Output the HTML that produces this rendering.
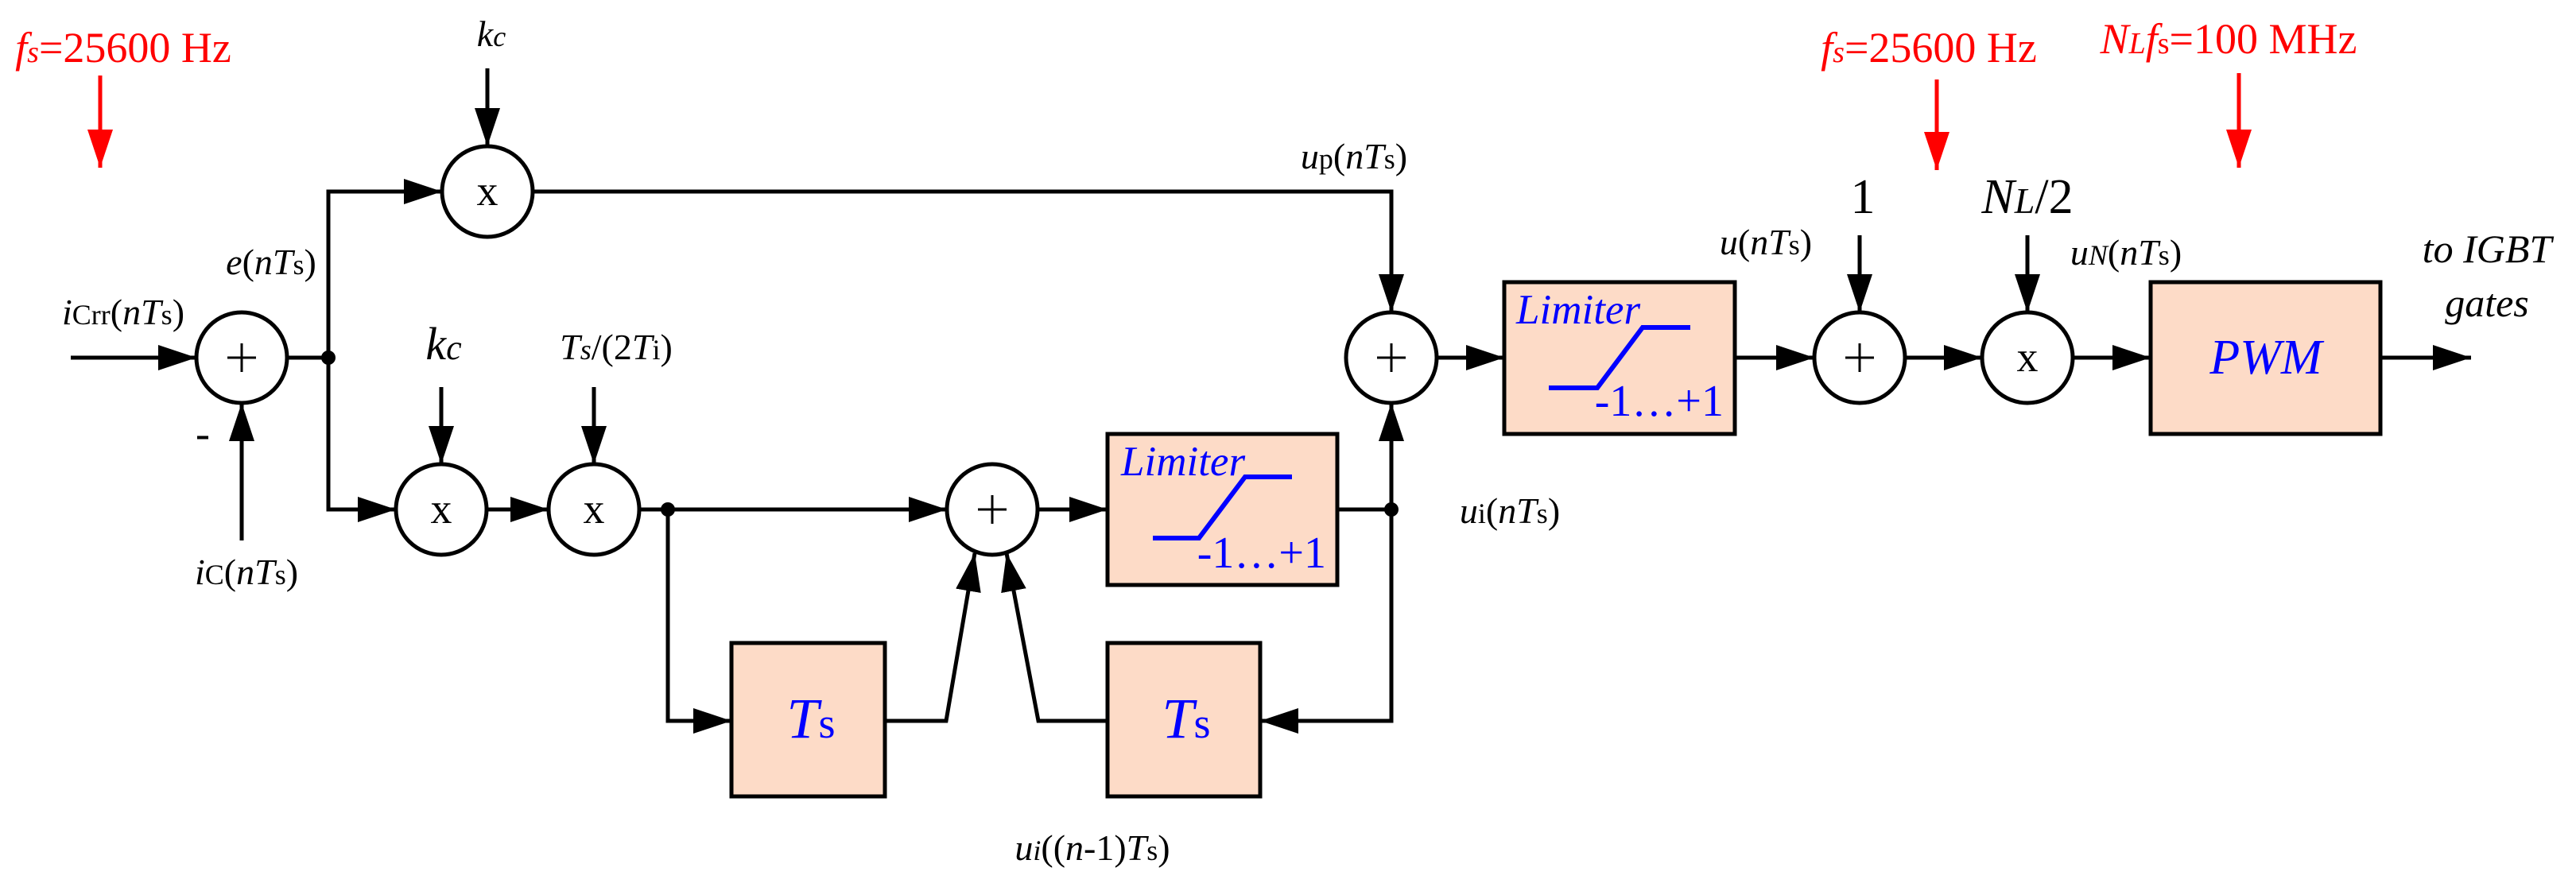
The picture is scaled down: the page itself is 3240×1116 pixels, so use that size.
<!DOCTYPE html>
<html><head><meta charset="utf-8"><style>
html,body{margin:0;padding:0;background:#fff;}
svg{display:block;font-family:"Liberation Serif",serif;}
</style></head><body>
<svg width="3240" height="1116" viewBox="0 0 3240 1116" xmlns="http://www.w3.org/2000/svg" font-family="Liberation Serif, serif">
<defs>
<marker id="a" viewBox="0 0 48 32" refX="48" refY="16" markerWidth="48" markerHeight="32" markerUnits="userSpaceOnUse" orient="auto"><path d="M0,0 L48,16 L0,32 Z" fill="#000"/></marker>
<marker id="r" viewBox="0 0 48 32" refX="48" refY="16" markerWidth="48" markerHeight="32" markerUnits="userSpaceOnUse" orient="auto"><path d="M0,0 L48,16 L0,32 Z" fill="#f00"/></marker>
</defs>
<g stroke="#000" stroke-width="5" fill="none">
<line x1="89" y1="450" x2="247" y2="450" marker-end="url(#a)"/>
<line x1="304" y1="680" x2="304" y2="507" marker-end="url(#a)"/>
<line x1="361" y1="450" x2="413" y2="450"/>
<polyline points="413,450 413,241 556,241" marker-end="url(#a)"/>
<line x1="613" y1="86" x2="613" y2="184" marker-end="url(#a)"/>
<polyline points="670,241 1750,241 1750,393" marker-end="url(#a)"/>
<polyline points="413,450 413,641 498,641" marker-end="url(#a)"/>
<line x1="555" y1="487" x2="555" y2="584" marker-end="url(#a)"/>
<line x1="747" y1="487" x2="747" y2="584" marker-end="url(#a)"/>
<line x1="612" y1="641" x2="690" y2="641" marker-end="url(#a)"/>
<line x1="804" y1="641" x2="1191" y2="641" marker-end="url(#a)"/>
<line x1="1305" y1="641" x2="1393" y2="641" marker-end="url(#a)"/>
<polyline points="840,641 840,907 920,907" marker-end="url(#a)"/>
<polyline points="1113,907 1190,907 1226,696" marker-end="url(#a)"/>
<polyline points="1393,907 1306,907 1266,696" marker-end="url(#a)"/>
<line x1="1682" y1="641" x2="1750" y2="641"/>
<polyline points="1750,641 1750,907 1585,907" marker-end="url(#a)"/>
<line x1="1750" y1="641" x2="1750" y2="507" marker-end="url(#a)"/>
<line x1="1807" y1="450" x2="1892" y2="450" marker-end="url(#a)"/>
<line x1="2182" y1="450" x2="2282" y2="450" marker-end="url(#a)"/>
<line x1="2339" y1="296" x2="2339" y2="393" marker-end="url(#a)"/>
<line x1="2396" y1="450" x2="2493" y2="450" marker-end="url(#a)"/>
<line x1="2550" y1="296" x2="2550" y2="393" marker-end="url(#a)"/>
<line x1="2607" y1="450" x2="2705" y2="450" marker-end="url(#a)"/>
<line x1="2994" y1="450" x2="3108" y2="450" marker-end="url(#a)"/>
</g>
<g stroke="#f00" stroke-width="5">
<line x1="126" y1="95" x2="126" y2="211" marker-end="url(#r)"/>
<line x1="2436" y1="100" x2="2436" y2="214" marker-end="url(#r)"/>
<line x1="2816" y1="92" x2="2816" y2="211" marker-end="url(#r)"/>
</g>
<g stroke="#000" stroke-width="5" fill="#fff">
<circle cx="304" cy="450" r="57"/>
<circle cx="613" cy="241" r="57"/>
<circle cx="555" cy="641" r="57"/>
<circle cx="747" cy="641" r="57"/>
<circle cx="1248" cy="641" r="57"/>
<circle cx="1750" cy="450" r="57"/>
<circle cx="2339" cy="450" r="57"/>
<circle cx="2550" cy="450" r="57"/>
</g>
<g fill="#000"><circle cx="413" cy="450" r="9"/><circle cx="840" cy="641" r="9"/><circle cx="1750" cy="641" r="9"/></g>
<g stroke="#000" stroke-width="3">
<path d="M286,450h36M304,432v36"/>
<path d="M1230,641h36M1248,623v36"/>
<path d="M1732,450h36M1750,432v36"/>
<path d="M2321,450h36M2339,432v36"/>
</g>
<g font-size="54" text-anchor="middle">
<text x="613" y="258">x</text><text x="555" y="658">x</text><text x="747" y="658">x</text><text x="2550" y="467">x</text>
</g>
<g stroke="#000" stroke-width="5" fill="#fddbc7">
<rect x="1393" y="546" width="289" height="190"/>
<rect x="920" y="809" width="193" height="193"/>
<rect x="1393" y="809" width="192" height="193"/>
<rect x="1892" y="355" width="290" height="191"/>
<rect x="2705" y="355" width="289" height="191"/>
</g>
<g stroke="#00f" stroke-width="6" fill="none">
<polyline points="1450,677 1508,677 1566,600 1625,600"/>
<polyline points="1948,488 2009,488 2066,412 2126,412"/>
</g>
<g fill="#00f">
<text x="1410" y="598" font-size="53" font-style="italic">Limiter</text>
<text x="1668" y="714" font-size="56" text-anchor="end">-1…+1</text>
<text x="1907" y="407" font-size="53" font-style="italic">Limiter</text>
<text x="2168" y="523" font-size="56" text-anchor="end">-1…+1</text>
<text x="1020" y="928" font-size="72" font-style="italic" text-anchor="middle">T<tspan font-style="normal" font-size="54">s</tspan></text>
<text x="1492" y="928" font-size="72" font-style="italic" text-anchor="middle">T<tspan font-style="normal" font-size="54">s</tspan></text>
<text x="2850" y="470" font-size="62" font-style="italic" text-anchor="middle">PWM</text>
</g>
<g font-size="46" fill="#000">
<text x="155" y="408" text-anchor="middle"><tspan font-style="italic">i</tspan><tspan font-size="36">Crr</tspan>(<tspan font-style="italic">nT</tspan><tspan font-size="36">s</tspan>)</text>
<text x="341" y="345" text-anchor="middle"><tspan font-style="italic">e</tspan>(<tspan font-style="italic">nT</tspan><tspan font-size="36">s</tspan>)</text>
<text x="310" y="735" text-anchor="middle"><tspan font-style="italic">i</tspan><tspan font-size="36">C</tspan>(<tspan font-style="italic">nT</tspan><tspan font-size="36">s</tspan>)</text>
<text x="255" y="563" text-anchor="middle" font-size="54">-</text>
<text x="618" y="58" text-anchor="middle" font-style="italic">k<tspan font-size="36">c</tspan></text>
<text x="558" y="452" text-anchor="middle" font-style="italic" font-size="58">k<tspan font-size="44">c</tspan></text>
<text x="775" y="452" text-anchor="middle"><tspan font-style="italic">T<tspan font-size="36">s</tspan></tspan>/(2<tspan font-style="italic">T</tspan><tspan font-size="36">i</tspan>)</text>
<text x="1703" y="212" text-anchor="middle"><tspan font-style="italic">u</tspan><tspan font-size="36">p</tspan>(<tspan font-style="italic">nT</tspan><tspan font-size="36">s</tspan>)</text>
<text x="1899" y="658" text-anchor="middle"><tspan font-style="italic">u</tspan><tspan font-size="36">i</tspan>(<tspan font-style="italic">nT</tspan><tspan font-size="36">s</tspan>)</text>
<text x="1374" y="1082" text-anchor="middle"><tspan font-style="italic">u<tspan font-size="36">i</tspan></tspan>((<tspan font-style="italic">n</tspan>-1)<tspan font-style="italic">T</tspan><tspan font-size="36">s</tspan>)</text>
<text x="2221" y="320" text-anchor="middle"><tspan font-style="italic">u</tspan>(<tspan font-style="italic">nT</tspan><tspan font-size="36">s</tspan>)</text>
<text x="2674" y="333" text-anchor="middle"><tspan font-style="italic">u<tspan font-size="36">N</tspan></tspan>(<tspan font-style="italic">nT</tspan><tspan font-size="36">s</tspan>)</text>
<text x="2343" y="268" text-anchor="middle" font-size="62">1</text>
<text x="2550" y="268" text-anchor="middle" font-size="62"><tspan font-style="italic">N<tspan font-size="46">L</tspan></tspan>/2</text>
<text x="3128" y="330" text-anchor="middle" font-style="italic" font-size="50">to IGBT</text>
<text x="3128" y="398" text-anchor="middle" font-style="italic" font-size="50">gates</text>
</g>
<g font-size="54" fill="#f00">
<text x="155" y="78" text-anchor="middle"><tspan font-style="italic">f<tspan font-size="38">s</tspan></tspan>=25600 Hz</text>
<text x="2426" y="78" text-anchor="middle"><tspan font-style="italic">f<tspan font-size="38">s</tspan></tspan>=25600 Hz</text>
<text x="2803" y="67" text-anchor="middle"><tspan font-style="italic">N<tspan font-size="38">L</tspan>f</tspan><tspan font-size="38">s</tspan>=100 MHz</text>
</g>
</svg>
</body></html>
